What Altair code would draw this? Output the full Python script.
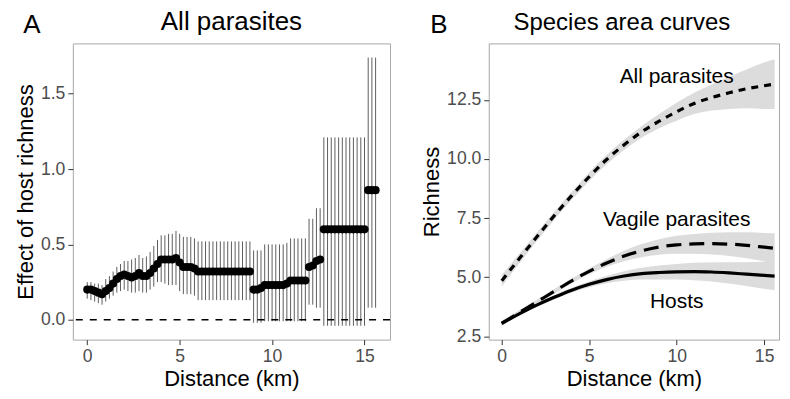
import altair as alt
import pandas as pd

FONT = "Liberation Sans"

# ---------------- Panel A: effect of host richness vs distance ----------------
dist_a = [0.0, 0.2, 0.4, 0.6, 0.8, 1.0, 1.2, 1.4, 1.6, 1.8,
          2.0, 2.2, 2.4, 2.6, 2.8, 3.0, 3.2, 3.4, 3.6, 3.8,
          4.0, 4.2, 4.4, 4.6, 4.8, 5.0, 5.2, 5.4, 5.6, 5.8,
          6.0, 6.2, 6.4, 6.6, 6.8, 7.0, 7.2, 7.4, 7.6, 7.8,
          8.0, 8.2, 8.4, 8.6, 8.8, 9.0, 9.2, 9.4, 9.6, 9.8,
          10.0, 10.2, 10.4, 10.6, 10.8, 11.0, 11.2, 11.4, 11.6, 11.8,
          12.0, 12.2, 12.4, 12.6, 12.8, 13.0, 13.2, 13.4, 13.6, 13.8,
          14.0, 14.2, 14.4, 14.6, 14.8, 15.0, 15.2, 15.4, 15.6]
est_a = [0.20, 0.20, 0.19, 0.18, 0.17, 0.19, 0.21, 0.24, 0.27, 0.29,
         0.30, 0.29, 0.28, 0.29, 0.31, 0.29, 0.29, 0.31, 0.34, 0.37,
         0.40, 0.40, 0.40, 0.40, 0.41, 0.38, 0.35, 0.35, 0.35, 0.34,
         0.32, 0.32, 0.32, 0.32, 0.32, 0.32, 0.32, 0.32, 0.32, 0.32,
         0.32, 0.32, 0.32, 0.32, 0.32, 0.20, 0.20, 0.21, 0.23, 0.23,
         0.23, 0.23, 0.23, 0.23, 0.24, 0.26, 0.26, 0.26, 0.26, 0.26,
         0.35, 0.36, 0.39, 0.40, 0.60, 0.60, 0.60, 0.60, 0.60, 0.60,
         0.60, 0.60, 0.60, 0.60, 0.60, 0.60, 0.86, 0.86, 0.86]
lo_a = [0.14, 0.13, 0.12, 0.11, 0.10, 0.12, 0.14, 0.16, 0.18, 0.19,
        0.20, 0.19, 0.18, 0.18, 0.19, 0.18, 0.18, 0.20, 0.22, 0.25,
        0.25, 0.24, 0.23, 0.23, 0.23, 0.19, 0.17, 0.17, 0.17, 0.16,
        0.13, 0.13, 0.13, 0.13, 0.13, 0.13, 0.13, 0.13, 0.13, 0.13,
        0.13, 0.13, 0.13, 0.13, 0.13, -0.02, -0.02, -0.02, -0.01, -0.01,
        -0.01, -0.01, -0.01, -0.01, -0.01, -0.01, -0.01, -0.01, -0.01, -0.01,
        0.10, 0.10, 0.08, 0.08, -0.04, -0.04, -0.04, -0.04, -0.04, -0.04,
        -0.04, -0.04, -0.04, -0.04, -0.04, -0.04, 0.08, 0.08, 0.08]
hi_a = [0.25, 0.25, 0.24, 0.24, 0.23, 0.27, 0.29, 0.32, 0.35, 0.37,
        0.39, 0.39, 0.40, 0.41, 0.43, 0.41, 0.42, 0.45, 0.49, 0.53,
        0.56, 0.56, 0.57, 0.57, 0.59, 0.57, 0.55, 0.55, 0.55, 0.54,
        0.52, 0.52, 0.52, 0.52, 0.52, 0.52, 0.52, 0.52, 0.52, 0.52,
        0.52, 0.52, 0.52, 0.52, 0.52, 0.46, 0.46, 0.46, 0.50, 0.50,
        0.50, 0.50, 0.50, 0.50, 0.51, 0.54, 0.54, 0.54, 0.54, 0.54,
        0.67, 0.67, 0.74, 0.74, 1.21, 1.21, 1.21, 1.21, 1.21, 1.21,
        1.21, 1.21, 1.21, 1.21, 1.21, 1.21, 1.74, 1.74, 1.74]

# ---------------- Panel B: species area curves ----------------
dist_b = [0, 1, 2, 3, 4, 5, 6, 7, 8, 9, 10, 11, 12, 13, 14, 15, 15.6]
all_par = [4.85, 5.78, 6.70, 7.60, 8.45, 9.25, 9.98, 10.60, 11.15, 11.60,
           12.00, 12.35, 12.60, 12.80, 12.97, 13.10, 13.17]
all_se = [0.25, 0.20, 0.18, 0.17, 0.17, 0.18, 0.20, 0.22, 0.25, 0.30,
          0.38, 0.45, 0.55, 0.68, 0.82, 0.98, 1.05]
vagile = [3.05, 3.50, 3.95, 4.40, 4.85, 5.25, 5.60, 5.90, 6.12, 6.28,
          6.37, 6.41, 6.42, 6.40, 6.35, 6.27, 6.22]
vagile_se = [0.12, 0.10, 0.10, 0.10, 0.10, 0.12, 0.16, 0.22, 0.28, 0.33,
             0.38, 0.42, 0.46, 0.50, 0.55, 0.60, 0.64]
hosts = [3.05, 3.45, 3.82, 4.15, 4.45, 4.70, 4.90, 5.05, 5.15, 5.20,
         5.23, 5.24, 5.22, 5.18, 5.13, 5.08, 5.05]
hosts_se = [0.10, 0.08, 0.08, 0.09, 0.10, 0.12, 0.15, 0.20, 0.25, 0.30,
            0.33, 0.37, 0.40, 0.45, 0.50, 0.57, 0.60]

series_names = ["All parasites", "Vagile parasites", "Hosts"]
label_x = [10.0, 10.0, 10.0]
label_y = [13.45, 7.42, 3.96]

# ---------------- build tables ----------------
dfa = pd.DataFrame({"dist": dist_a, "est": est_a, "lo": lo_a, "hi": hi_a})

rows = []
for name, vals, se in [("All parasites", all_par, all_se),
                       ("Vagile parasites", vagile, vagile_se),
                       ("Hosts", hosts, hosts_se)]:
    for d, v, s in zip(dist_b, vals, se):
        rows.append({"series": name, "dist": d, "rich": v,
                     "lo": v - s, "hi": v + s})
dfb = pd.DataFrame(rows)
dfl = pd.DataFrame({"label": series_names, "x": label_x, "y": label_y})

# ---------------- Panel A chart ----------------
xa = alt.Scale(domain=[-0.78, 16.38], nice=False, zero=False)
ya = alt.Scale(domain=[-0.132, 1.834], nice=False, zero=False)

base_a = alt.Chart(dfa)
bars = base_a.mark_rule(color="#5e5e5e", strokeWidth=1).encode(
    x=alt.X("dist:Q", scale=xa,
            axis=alt.Axis(values=[0, 5, 10, 15], title="Distance (km)")),
    y=alt.Y("lo:Q", scale=ya,
            axis=alt.Axis(values=[0, 0.5, 1.0, 1.5], format=".1f",
                          title="Effect of host richness")),
    y2="hi:Q",
)
zero_line = alt.Chart(pd.DataFrame({"z": [0.0]})).mark_rule(
    color="black", strokeDash=[7, 7], strokeWidth=1.5
).encode(y=alt.Y("z:Q", scale=ya))
pts = base_a.mark_circle(size=66, color="black", opacity=1).encode(
    x="dist:Q", y="est:Q"
)
letter_a = alt.Chart(pd.DataFrame({"t": ["A"]})).mark_text(
    font=FONT, fontSize=26, align="center", baseline="middle", color="black"
).encode(text="t:N", x=alt.value(-41), y=alt.value(-18))

panel_a = alt.layer(bars, zero_line, pts, letter_a).properties(
    width=318, height=297,
    title=alt.TitleParams("All parasites", fontSize=26, font=FONT,
                          fontWeight="normal", anchor="middle", offset=-23),
)

# ---------------- Panel B chart ----------------
xb = alt.Scale(domain=[-0.74, 15.85], nice=False, zero=False)
yb = alt.Scale(domain=[2.36, 14.89], nice=False, zero=False)

base_b = alt.Chart(dfb)
bands = base_b.mark_area(color="#dcdcdc", opacity=1, interpolate="monotone").encode(
    x=alt.X("dist:Q", scale=xb,
            axis=alt.Axis(values=[0, 5, 10, 15], title="Distance (km)")),
    y=alt.Y("lo:Q", scale=yb,
            axis=alt.Axis(values=[2.5, 5.0, 7.5, 10.0, 12.5], format=".1f",
                          title="Richness")),
    y2="hi:Q",
    detail="series:N",
)
line_all = base_b.transform_filter(alt.datum.series == "All parasites").mark_line(
    color="black", strokeWidth=3.2, strokeDash=[7, 6], interpolate="monotone"
).encode(x="dist:Q", y="rich:Q")
line_vag = base_b.transform_filter(alt.datum.series == "Vagile parasites").mark_line(
    color="black", strokeWidth=3.2, strokeDash=[15, 8], interpolate="monotone"
).encode(x="dist:Q", y="rich:Q")
line_host = base_b.transform_filter(alt.datum.series == "Hosts").mark_line(
    color="black", strokeWidth=3.2, interpolate="monotone"
).encode(x="dist:Q", y="rich:Q")
labels_b = alt.Chart(dfl).mark_text(
    font=FONT, fontSize=21, align="center", baseline="middle", color="black"
).encode(x=alt.X("x:Q", scale=xb), y=alt.Y("y:Q", scale=yb), text="label:N")
letter_b = alt.Chart(pd.DataFrame({"t": ["B"]})).mark_text(
    font=FONT, fontSize=26, align="center", baseline="middle", color="black"
).encode(text="t:N", x=alt.value(-50), y=alt.value(-18))

panel_b = alt.layer(bands, line_all, line_vag, line_host, labels_b, letter_b).properties(
    width=291, height=297,
    title=alt.TitleParams("Species area curves", fontSize=24, font=FONT,
                          fontWeight="normal", anchor="middle", offset=-23,
                          dx=-12),
)

chart = alt.hconcat(panel_a, panel_b, spacing=28).properties(
    padding={"left": 6, "top": 0, "right": 0, "bottom": 0}
).configure_view(
    stroke="#a8a8a8", strokeWidth=1
).configure_axis(
    domain=False, grid=False,
    tickColor="#333333", tickSize=5, tickWidth=1,
    labelFont=FONT, labelFontSize=17.6, labelColor="#4d4d4d", labelPadding=3,
    titleFont=FONT, titleFontSize=22, titleFontWeight="normal", titleColor="black",
    titlePadding=3,
)

chart.save("out.html", embed_options={"renderer": "svg", "actions": False})
